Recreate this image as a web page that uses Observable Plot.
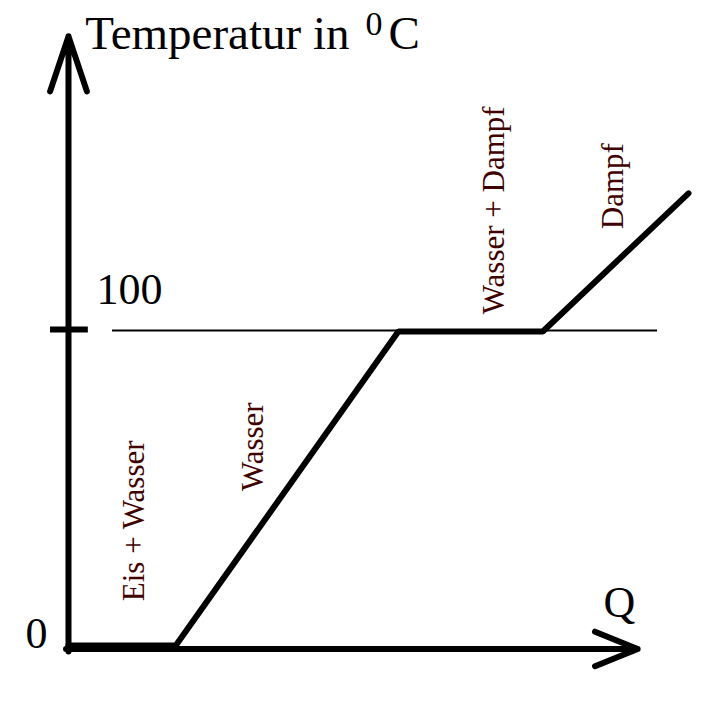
<!DOCTYPE html>
<html>
<head>
<meta charset="utf-8">
<script src="https://cdn.jsdelivr.net/npm/d3@7"></script>
<script src="https://cdn.jsdelivr.net/npm/@observablehq/plot@0.6"></script>
<style>
  html, body { margin: 0; padding: 0; background: #ffffff; }
  #chart svg { display: block; }
</style>
</head>
<body>
<div id="chart"></div>
<script>
// Heating curve of water: heat Q vs. temperature
const qValues = [0, 17.3, 53.2, 76.5, 100];
const tempValues = [0, 0, 100, 100, 144];

const phaseLabels = ["Eis + Wasser", "Wasser", "Wasser + Dampf", "Dampf"];
const phaseQ = [12.1, 31.3, 70.2, 89.5];
const phaseT = [39.7, 63.3, 138.6, 146.3];

const tickValues = [0, 100];
const tickLabels = ["0", "100"];

const titleParts = ["Temperatur in", "0", "C"];
const titleQ = [2.7, 47.9, 51.6];
const titleT = [190.1, 194.3, 190.1];
const titleSize = [47, 34, 47];

const xAxisLabel = "Q";
const xAxisEnd = 91.8;   // Q where the x-axis arrow ends
const yAxisEnd = 194;    // temperature where the y-axis arrow ends
const axisT = -1.1;      // x axis sits just below 0 °C

const curve = qValues.map((q, i) => ({q, t: tempValues[i]}));
const phases = phaseLabels.map((label, i) => ({label, q: phaseQ[i], t: phaseT[i]}));
const title = titleParts.map((text, i) => ({text, q: titleQ[i], t: titleT[i], size: titleSize[i]}));

const font = "'Liberation Serif', 'Times New Roman', serif";

const chart = Plot.plot({
  width: 708,
  height: 708,
  margin: 0,
  style: {fontFamily: font, background: "#ffffff", color: "#000000"},
  x: {domain: [0, 100], range: [68, 688], axis: null},
  y: {domain: [0, 100], range: [645, 331], axis: null},
  marks: [
    // thin 100 °C reference line
    Plot.ruleY([tickValues[1]], {x1: 7.1, x2: 95, dy: -1, stroke: "black", strokeWidth: 2}),
    // tick mark at 100 on the y axis
    Plot.ruleY([tickValues[1]], {x1: -2.9, x2: 3.2, dy: -2, stroke: "black", strokeWidth: 6}),
    // axes with open arrowheads
    Plot.arrow([{x1: 0, y1: axisT - 0.8, x2: 0, y2: yAxisEnd}], {
      x1: "x1", y1: "y1", x2: "x2", y2: "y2",
      stroke: "black", strokeWidth: 6, headAngle: 37, headLength: 14.5
    }),
    Plot.arrow([{x1: -0.4, y1: axisT, x2: xAxisEnd, y2: axisT}], {
      x1: "x1", y1: "y1", x2: "x2", y2: "y2",
      stroke: "black", strokeWidth: 6, headAngle: 44, headLength: 11.5
    }),
    // heating curve
    Plot.line(curve, {x: "q", y: "t", stroke: "black", strokeWidth: 6, strokeLinejoin: "miter"}),
    // phase labels
    Plot.text(phases, {
      x: "q", y: "t", text: "label", rotate: -90,
      textAnchor: "middle", lineAnchor: "bottom",
      fontSize: 31, fill: "#400000"
    }),
    // tick labels
    Plot.text([tickValues[0]], {x: 0, y: (d) => d, text: [tickLabels[0]], dx: -21, dy: 2,
      textAnchor: "end", lineAnchor: "bottom", fontSize: 44, fill: "black"}),
    Plot.text([tickValues[1]], {x: 0, y: (d) => d, text: [tickLabels[1]], dx: 28, dy: -28,
      textAnchor: "start", lineAnchor: "bottom", fontSize: 44, fill: "black"}),
    // axis titles
    Plot.text(title, {x: "q", y: "t", text: "text", fontSize: "size",
      textAnchor: "start", lineAnchor: "bottom", fill: "black"}),
    Plot.text([xAxisLabel], {x: 86.3, y: 9.2, text: (d) => d,
      textAnchor: "start", lineAnchor: "bottom", fontSize: 44, fill: "black"})
  ]
});

document.getElementById("chart").appendChild(chart);
</script>
</body>
</html>
